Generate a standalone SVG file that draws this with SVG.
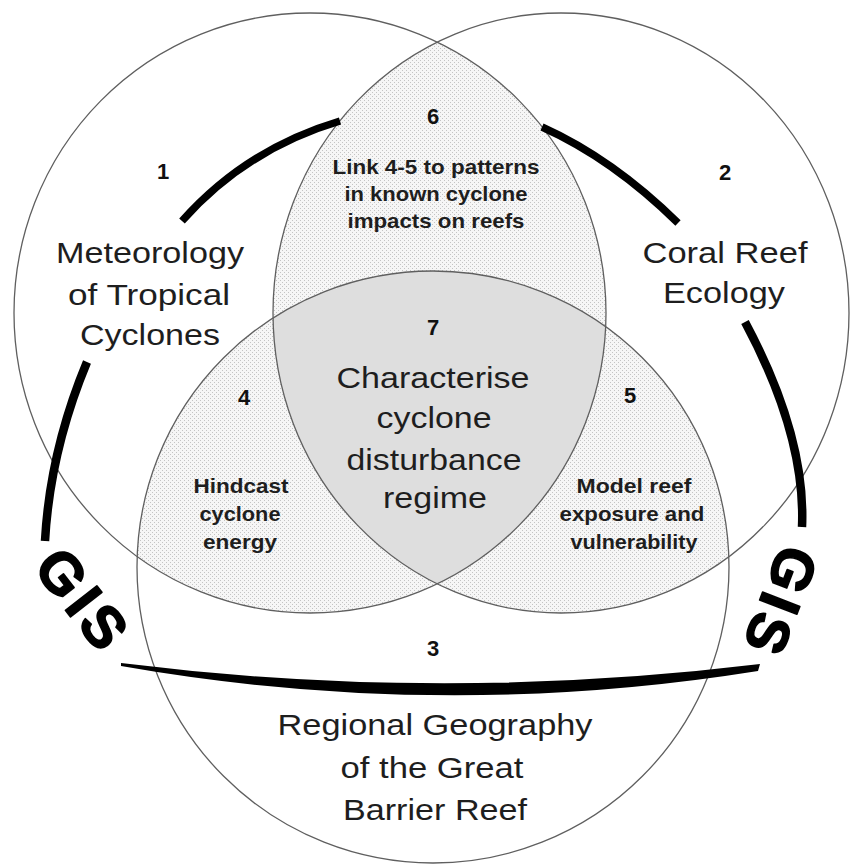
<svg xmlns="http://www.w3.org/2000/svg" width="850" height="866" viewBox="0 0 850 866">
<style>
  .ring{fill:none;stroke:#5f5f5f;stroke-width:1.3}
  .big{font-family:"Liberation Sans",Arial,sans-serif;font-size:30px;fill:#1e1e1e;text-anchor:middle}
  .small{font-family:"Liberation Sans",Arial,sans-serif;font-size:21px;font-weight:bold;fill:#1e1e1e;text-anchor:middle}
  .num{font-family:"Liberation Sans",Arial,sans-serif;font-size:22px;font-weight:bold;fill:#111;text-anchor:middle}
  .gis{font-family:"Liberation Sans",Arial,sans-serif;font-size:58px;font-weight:bold;fill:#000;stroke:#000;stroke-width:1.6;stroke-linejoin:round;text-anchor:middle;letter-spacing:5px}
  .arc{fill:none;stroke:#000;stroke-linecap:butt}
  .stip{fill:url(#stipple)}
  .core{fill:#dedede}
</style>
<defs>
  <pattern id="stipple" width="4" height="4" patternUnits="userSpaceOnUse">
    <rect width="4" height="4" fill="#f6f6f6"/>
    <rect x="0" y="0" width="1" height="1" fill="#c4c4c4"/>
    <rect x="2" y="2" width="1" height="1" fill="#c4c4c4"/>
  </pattern>
  <clipPath id="clipMet"><ellipse cx="310" cy="313" rx="296" ry="300"/></clipPath>
  <clipPath id="clipReef"><ellipse cx="561" cy="313" rx="288" ry="300"/></clipPath>
  <clipPath id="clipGeo"><ellipse cx="433" cy="567" rx="296" ry="296"/></clipPath>
</defs>

<rect width="850" height="866" fill="#fff"/>

<!-- overlap zones -->
<g id="zone-6" clip-path="url(#clipMet)">
  <ellipse class="stip" cx="561" cy="313" rx="288" ry="300"/>
</g>
<g id="zone-4" clip-path="url(#clipMet)">
  <ellipse class="stip" cx="433" cy="567" rx="296" ry="296"/>
</g>
<g id="zone-5" clip-path="url(#clipReef)">
  <ellipse class="stip" cx="433" cy="567" rx="296" ry="296"/>
</g>
<g id="zone-7" clip-path="url(#clipMet)">
  <g clip-path="url(#clipReef)">
    <ellipse class="core" cx="433" cy="567" rx="296" ry="296"/>
  </g>
</g>

<!-- discipline circles -->
<g id="circle-meteorology">
  <ellipse class="ring" cx="310" cy="313" rx="296" ry="300"/>
  <text class="num" x="163" y="179">1</text>
  <text class="big" x="150" y="263" textLength="188" lengthAdjust="spacingAndGlyphs">Meteorology</text>
  <text class="big" x="149" y="305" textLength="162" lengthAdjust="spacingAndGlyphs">of Tropical</text>
  <text class="big" x="150" y="345" textLength="140" lengthAdjust="spacingAndGlyphs">Cyclones</text>
</g>
<g id="circle-coral-reef">
  <ellipse class="ring" cx="561" cy="313" rx="288" ry="300"/>
  <text class="num" x="725" y="180">2</text>
  <text class="big" x="725" y="263" textLength="165" lengthAdjust="spacingAndGlyphs">Coral Reef</text>
  <text class="big" x="724" y="303" textLength="122" lengthAdjust="spacingAndGlyphs">Ecology</text>
</g>
<g id="circle-geography">
  <ellipse class="ring" cx="433" cy="567" rx="296" ry="296"/>
  <text class="num" x="433" y="656">3</text>
  <text class="big" x="435" y="735" textLength="315" lengthAdjust="spacingAndGlyphs">Regional Geography</text>
  <text class="big" x="432" y="778" textLength="183" lengthAdjust="spacingAndGlyphs">of the Great</text>
  <text class="big" x="435" y="820" textLength="184" lengthAdjust="spacingAndGlyphs">Barrier Reef</text>
</g>

<!-- zone labels -->
<g id="label-6">
  <text class="num" x="433" y="124">6</text>
  <text class="small" x="436" y="174" textLength="207" lengthAdjust="spacingAndGlyphs">Link 4-5 to patterns</text>
  <text class="small" x="436" y="201" textLength="183" lengthAdjust="spacingAndGlyphs">in known cyclone</text>
  <text class="small" x="436" y="228" textLength="177" lengthAdjust="spacingAndGlyphs">impacts on reefs</text>
</g>
<g id="label-4">
  <text class="num" x="244" y="405">4</text>
  <text class="small" x="241" y="493" textLength="95" lengthAdjust="spacingAndGlyphs">Hindcast</text>
  <text class="small" x="240" y="521" textLength="81" lengthAdjust="spacingAndGlyphs">cyclone</text>
  <text class="small" x="240" y="549" textLength="74" lengthAdjust="spacingAndGlyphs">energy</text>
</g>
<g id="label-5">
  <text class="num" x="630" y="403">5</text>
  <text class="small" x="634" y="493" textLength="115" lengthAdjust="spacingAndGlyphs">Model reef</text>
  <text class="small" x="632" y="521" textLength="145" lengthAdjust="spacingAndGlyphs">exposure and</text>
  <text class="small" x="634" y="549" textLength="127" lengthAdjust="spacingAndGlyphs">vulnerability</text>
</g>
<g id="label-7">
  <text class="num" x="433" y="335">7</text>
  <text class="big" x="433" y="388" textLength="193" lengthAdjust="spacingAndGlyphs">Characterise</text>
  <text class="big" x="434" y="428" textLength="115" lengthAdjust="spacingAndGlyphs">cyclone</text>
  <text class="big" x="434" y="470" textLength="175" lengthAdjust="spacingAndGlyphs">disturbance</text>
  <text class="big" x="435" y="508" textLength="104" lengthAdjust="spacingAndGlyphs">regime</text>
</g>

<!-- GIS ring linking the three disciplines -->
<g id="connectors">
  <path class="arc" stroke-width="7.5" d="M182,221 Q246,149 340,121"/>
  <path class="arc" stroke-width="7.5" d="M542,127 Q613,159 678,223"/>
  <path class="arc" stroke-width="8.5" d="M87,362 Q50,451 45,541"/>
  <path class="arc" stroke-width="8.5" d="M745,322 Q806,436 802,527"/>
  <path fill="#000" d="M121,663 Q440,703 760,664 L758,671 Q440,722 121,666 Z"/>
</g>

<g id="gis-left">
  <text class="gis" transform="translate(84,600) rotate(52)" y="21">GIS</text>
</g>
<g id="gis-right">
  <text class="gis" transform="translate(781,603) rotate(111)" y="21">GIS</text>
</g>
</svg>
